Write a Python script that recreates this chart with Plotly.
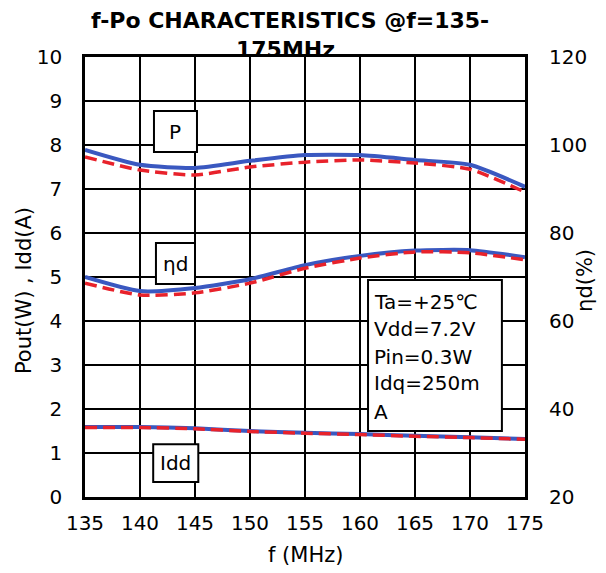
import plotly.graph_objects as go

freq = [135, 140, 145, 150, 155, 160, 165, 170, 175]
pout_blue = [7.89, 7.55, 7.48, 7.64, 7.77, 7.77, 7.66, 7.55, 7.05]
pout_red = [7.73, 7.43, 7.32, 7.50, 7.61, 7.66, 7.59, 7.45, 6.93]
eta_blue = [70.0, 66.8, 67.5, 69.5, 72.7, 74.8, 76.0, 76.1, 74.5]
eta_red = [68.6, 65.9, 66.4, 68.6, 72.0, 74.3, 75.7, 75.5, 73.9]
idd_blue = [1.59, 1.59, 1.56, 1.50, 1.46, 1.43, 1.39, 1.36, 1.32]
idd_red = [1.58, 1.58, 1.55, 1.49, 1.45, 1.42, 1.38, 1.35, 1.31]

x_ticks = [135, 140, 145, 150, 155, 160, 165, 170, 175]
left_ticks = list(range(0, 11))
right_ticks = [20, 40, 60, 80, 100, 120]
cond_lines = ["Ta=+25\u2103", "Vdd=7.2V", "Pin=0.3W", "Idq=250m", "A"]

FONT = "DejaVu Sans"
BLUE = "#3a58c0"
RED = "#e8222b"

fig = go.Figure()

def add_pair(yb, yr, axis):
    fig.add_trace(go.Scatter(x=freq, y=yb, mode="lines", yaxis=axis,
                             line=dict(color=BLUE, width=4, shape="spline", smoothing=0.6),
                             showlegend=False, hoverinfo="skip"))
    fig.add_trace(go.Scatter(x=freq, y=yr, mode="lines", yaxis=axis,
                             line=dict(color=RED, width=3.5, shape="spline", smoothing=0.6,
                                       dash="12px,6px"),
                             showlegend=False, hoverinfo="skip"))

add_pair(pout_blue, pout_red, "y")
add_pair(eta_blue, eta_red, "y2")
add_pair(idd_blue, idd_red, "y")

shapes = []
annotations = []

# label boxes
for (x0, x1, y0, y1, txt) in [
    (141.27, 145.18, 7.84, 8.77, "P"),
    (141.45, 145.0, 4.84, 5.77, "\u03b7d"),
    (141.2, 145.3, 0.34, 1.20, "Idd"),
]:
    shapes.append(dict(type="rect", xref="x", yref="y", x0=x0, x1=x1, y0=y0, y1=y1,
                       fillcolor="white", line=dict(color="black", width=2), layer="above"))
    annotations.append(dict(x=(x0 + x1) / 2, y=(y0 + y1) / 2, xref="x", yref="y",
                            text=txt, showarrow=False, xanchor="center", yanchor="middle",
                            font=dict(family=FONT, size=20, color="black")))

# condition box
shapes.append(dict(type="rect", xref="x", yref="y", x0=160.73, x1=172.9, y0=1.5, y1=4.93,
                   fillcolor="white", line=dict(color="black", width=2), layer="above"))
for txt, yy in zip(cond_lines, [4.43, 3.82, 3.18, 2.59, 1.94]):
    annotations.append(dict(x=161.1, y=yy, xref="x", yref="y", text=txt, showarrow=False,
                            xanchor="left", yanchor="middle",
                            font=dict(family=FONT, size=20, color="black")))

def paper_note(text, x, y, size=21, angle=0, bold=False):
    annotations.append(dict(x=x, y=y, xref="paper", yref="paper",
                            text=f"<b>{text}</b>" if bold else text, showarrow=False,
                            xanchor="center", yanchor="middle", textangle=angle,
                            font=dict(family=FONT, size=size, color="black")))

# titles
paper_note("f-Po CHARACTERISTICS @f=135-", 0.465, 1.084, size=22, bold=True)
paper_note("175MHz", 0.455, 1.016, size=22, bold=True)
paper_note("f (MHz)", 0.5, -0.132)
paper_note("Pout(W) , Idd(A)", -0.1386, 0.468, angle=-90)
paper_note("\u03b7d(%)", 1.136, 0.493, angle=-90)

fig.update_layout(
    width=606, height=573,
    margin=dict(l=77, r=89, t=49, b=84),
    paper_bgcolor="white", plot_bgcolor="white",
    font=dict(family=FONT, size=20, color="black"),
    shapes=shapes, annotations=annotations,
    xaxis=dict(range=[135, 175], tickvals=x_ticks, ticktext=[str(v) for v in x_ticks],
               showgrid=True, gridcolor="black", gridwidth=2,
               showline=True, linecolor="black", linewidth=2.5, mirror=True,
               ticks="outside", ticklen=6, tickcolor="rgba(0,0,0,0)",
               zeroline=False, fixedrange=True),
    yaxis=dict(range=[0, 10], tickvals=left_ticks, ticktext=[str(v) for v in left_ticks],
               showgrid=True, gridcolor="black", gridwidth=2,
               showline=True, linecolor="black", linewidth=2.5, mirror=True,
               ticks="outside", ticklen=16, tickcolor="rgba(0,0,0,0)",
               zeroline=False, fixedrange=True),
    yaxis2=dict(range=[20, 120], tickvals=right_ticks, ticktext=[str(v) for v in right_ticks],
                overlaying="y", side="right", showgrid=False, showline=False,
                ticks="outside", ticklen=19, tickcolor="rgba(0,0,0,0)",
                zeroline=False, fixedrange=True),
)

fig.write_html("out.html")
